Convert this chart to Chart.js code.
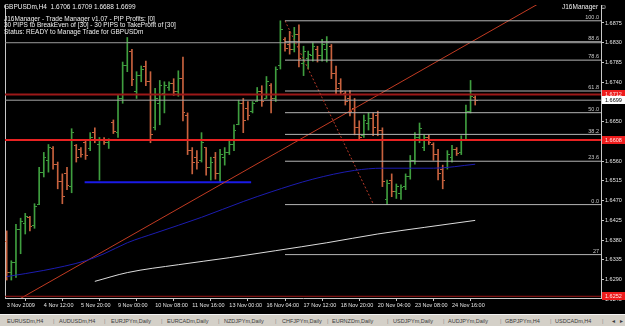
<!DOCTYPE html>
<html><head><meta charset="utf-8">
<script src="https://cdn.jsdelivr.net/npm/chart.js@4/dist/chart.umd.min.js"></script>
<style>
html,body{margin:0;padding:0;background:#000;width:625px;height:326px;overflow:hidden;font-family:"Liberation Sans",Arial,sans-serif;}
#wrap{position:absolute;left:0;top:0;width:625px;height:314px;}
.txt{position:absolute;color:#f0f0f0;font-size:6.5px;white-space:pre;}
#tabs{position:absolute;left:0;top:314px;width:625px;height:12px;background:#d4d0c8;border-top:1px solid #f4f4f4;box-sizing:border-box;font-size:5.5px;color:#3a3a3a;}
#tabs span{position:absolute;top:2px;white-space:nowrap;line-height:8px;}
</style>
</head><body>
<div id="wrap"><canvas id="c"></canvas></div>
<div class="txt" id="l1" style="left:4px;top:2.5px;line-height:7px;"></div>
<div class="txt" style="left:4px;top:15.6px;line-height:6.7px;">J16Manager - Trade Manager v1.07 - PIP Profits: [0]
30 PIPS to BreakEven of [30] - 30 PIPS to TakeProfit of [30]
Status: READY to Manage Trade for GBPUSDm</div>
<div class="txt" style="left:562px;top:2.5px;line-height:7px;">J16Manager <span style="font-size:7px">☺</span></div>
<div id="tabs"></div>
<script>
// ---------- data (GBPUSDm, H4) ----------
const opens=[1.6378,1.6307,1.6329,1.6405,1.6419,1.6432,1.6414,1.6461,1.6535,1.6562,
1.6589,1.6553,1.6513,1.6531,1.6502,1.6596,1.6587,1.6602,1.6589,1.6625,
1.6598,1.6609,1.6602,1.6649,1.6625,1.6703,1.6777,1.6809,1.6719,1.6755,
1.6775,1.6741,1.6636,1.6692,1.6714,1.6728,1.6737,1.6719,1.6748,1.6665,
1.6584,1.6569,1.6562,1.6591,1.6546,1.6569,1.6531,1.6569,1.6580,1.6598,
1.6643,1.6692,1.6681,1.6674,1.6696,1.6719,1.6703,1.6732,1.6703,1.6777,
1.6838,1.6826,1.6815,1.6849,1.6782,1.6793,1.6800,1.6815,1.6800,1.6815,
1.6822,1.6759,1.6737,1.6714,1.6703,1.6681,1.6636,1.6618,1.6647,1.6658,
1.6665,1.6629,1.6473,1.6517,1.6490,1.6486,1.6502,1.6524,1.6562,1.6614,
1.6591,1.6614,1.6598,1.6575,1.6540,1.6546,1.6569,1.6587,1.6580,1.6609,
1.6674,1.6706];
const highs=[1.6401,1.6333,1.6416,1.6430,1.6441,1.6434,1.6463,1.6546,1.6580,1.6598,
1.6593,1.6558,1.6531,1.6546,1.6634,1.6598,1.6591,1.6609,1.6625,1.6636,
1.6614,1.6614,1.6611,1.6654,1.6710,1.6786,1.6842,1.6815,1.6764,1.6777,
1.6788,1.6764,1.6726,1.6744,1.6741,1.6741,1.6748,1.6766,1.6797,1.6670,
1.6591,1.6584,1.6625,1.6591,1.6569,1.6580,1.6587,1.6591,1.6607,1.6643,
1.6699,1.6703,1.6696,1.6696,1.6728,1.6732,1.6753,1.6737,1.6775,1.6880,
1.6842,1.6856,1.6865,1.6871,1.6822,1.6811,1.6831,1.6822,1.6838,1.6844,
1.6826,1.6777,1.6748,1.6719,1.6721,1.6703,1.6652,1.6665,1.6670,1.6670,
1.6674,1.6636,1.6517,1.6531,1.6508,1.6506,1.6531,1.6573,1.6625,1.6647,
1.6620,1.6620,1.6602,1.6587,1.6551,1.6584,1.6596,1.6591,1.6618,1.6688,
1.6744,1.6709];
const lows=[1.6289,1.6289,1.6295,1.6349,1.6394,1.6401,1.6407,1.6461,1.6524,1.6535,
1.6542,1.6497,1.6463,1.6495,1.6488,1.6558,1.6569,1.6564,1.6584,1.6602,
1.6517,1.6598,1.6589,1.6623,1.6614,1.6692,1.6764,1.6732,1.6703,1.6741,
1.6732,1.6602,1.6631,1.6643,1.6670,1.6721,1.6710,1.6708,1.6652,1.6575,
1.6531,1.6542,1.6558,1.6528,1.6517,1.6519,1.6513,1.6551,1.6575,1.6584,
1.6643,1.6625,1.6654,1.6670,1.6696,1.6685,1.6703,1.6670,1.6696,1.6770,
1.6811,1.6804,1.6809,1.6775,1.6755,1.6770,1.6788,1.6786,1.6788,1.6786,
1.6748,1.6714,1.6714,1.6688,1.6663,1.6620,1.6607,1.6614,1.6631,1.6618,
1.6618,1.6502,1.6461,1.6479,1.6475,1.6473,1.6495,1.6519,1.6553,1.6602,
1.6584,1.6598,1.6562,1.6517,1.6497,1.6542,1.6558,1.6573,1.6575,1.6607,
1.6670,1.6688];
const closes=[1.6307,1.6329,1.6405,1.6423,1.6434,1.6410,1.6457,1.6535,1.6569,1.6591,
1.6553,1.6513,1.6479,1.6504,1.6625,1.6569,1.6575,1.6573,1.6614,1.6607,
1.6609,1.6602,1.6607,1.6627,1.6703,1.6777,1.6831,1.6746,1.6755,1.6770,
1.6741,1.6620,1.6703,1.6732,1.6732,1.6737,1.6719,1.6748,1.6670,1.6584,
1.6558,1.6558,1.6602,1.6546,1.6558,1.6531,1.6575,1.6580,1.6598,1.6629,
1.6692,1.6652,1.6665,1.6692,1.6719,1.6696,1.6741,1.6703,1.6770,1.6860,
1.6817,1.6815,1.6849,1.6793,1.6809,1.6804,1.6822,1.6800,1.6826,1.6831,
1.6759,1.6726,1.6719,1.6696,1.6674,1.6636,1.6614,1.6652,1.6658,1.6636,
1.6629,1.6513,1.6508,1.6490,1.6502,1.6499,1.6524,1.6562,1.6614,1.6634,
1.6614,1.6602,1.6575,1.6531,1.6517,1.6575,1.6587,1.6578,1.6609,1.6674,
1.6708,1.6699];

const xTickIdx=[0,8,16,24,32,40,48,56,64,72,80,88,96];
const xTickText=["3 Nov 2009","4 Nov 12:00","5 Nov 20:00","9 Nov 00:00","10 Nov 08:00","11 Nov 16:00",
"13 Nov 00:00","16 Nov 04:00","17 Nov 12:00","18 Nov 20:00","20 Nov 04:00","23 Nov 08:00","24 Nov 16:00"];
const yTicks=[1.6245,1.6290,1.6335,1.6380,1.6425,1.6470,1.6515,1.6560,1.6605,1.6650,1.6695,1.6740,1.6785,1.6830,1.6875];

const blueMaIdx=[0,8,17,21,26,32,42,51,57,66,75,81,92,101];
const blueMaVal=[1.6297,1.6311,1.6333,1.6349,1.6374,1.6396,1.6432,1.6468,1.6490,1.6519,1.6539,1.6544,1.6544,1.6553];
const whiteMaIdx=[19,26,37,48,58,69,80,90,101];
const whiteMaVal=[1.6286,1.6306,1.6324,1.6340,1.6356,1.6374,1.6394,1.6409,1.6425];

const fibHigh=1.6880, fibLow=1.6461, fibFromIdx=60, fibToIdx=79.1;
const fibLevels=[100,88.6,78.6,61.8,50,38.2,23.6,0,-27.2];
const fibLabels=["100.0","88.6","78.6","61.8","50.0","38.2","23.6","0.0","27"];

const hLinePrices=[1.6830,1.6712,1.6699,1.6608,1.6252];
const trendIdx=[-0.364,128.12], trendVal=[1.6227,1.7000];
const supportIdx=[16.8,52.7], supportVal=[1.6512,1.6512];
const boxPrices=[1.6712,1.6699,1.6608,1.6252];

const tabNames=["EURUSDm,H4","AUDUSDm,H4","EURJPYm,Daily","EURCADm,Daily","NZDJPYm,Daily","CHFJPYm,Daily",
"EURNZDm,Daily","USDJPYm,Daily","AUDJPYm,Daily","GBPJPYm,H4","USDCADm,H4"];

// ---------- layout / style ----------
const X_MIN=-0.364, X_MAX=128.12, Y_MIN=1.62481, Y_MAX=1.69160;
const UP='#3f9e3f', DN='#c8623e', AX='#e4e4e4', FONT='"Liberation Sans", Arial, sans-serif';
const n=opens.length;
document.getElementById('l1').textContent='GBPUSDm,H4  '+opens[n-1].toFixed(4)+' '+highs[n-1].toFixed(4)+' '+lows[n-1].toFixed(4)+' '+closes[n-1].toFixed(4);

// tabs
(function(){
  const t=document.getElementById('tabs');
  const lefts=[7,59,111,167,224,282,332,393,448,505,555];
  const seps=[53,104,161,218,275,327,387,443,500,550,602];
  tabNames.forEach((nm,i)=>{const s=document.createElement('span');s.textContent=nm;s.style.left=lefts[i]+'px';t.appendChild(s);});
  seps.forEach(x=>{const s=document.createElement('span');s.textContent='|';s.style.left=x+'px';s.style.color='#8a8a8a';t.appendChild(s);});
  [['◄',611],['►',619]].forEach(a=>{const s=document.createElement('span');s.textContent=a[0];s.style.left=a[1]+'px';s.style.fontSize='5px';t.appendChild(s);});
})();

function tickImg(color, side){
  const c=document.createElement('canvas'); c.width=5; c.height=1;
  const g=c.getContext('2d'); g.fillStyle=color;
  if(side==='l') g.fillRect(0,0,2,1); else g.fillRect(3,0,2,1);
  return c;
}
const imgs={upL:tickImg(UP,'l'),upR:tickImg(UP,'r'),dnL:tickImg(DN,'l'),dnR:tickImg(DN,'r')};
const isUp=i=>closes[i]>=opens[i];

function hline(price, from, to, color, width, dash, order){
  return {type:'line', data:[{x:from,y:price},{x:to,y:price}], borderColor:color, borderWidth:width,
    borderDash:dash||[], pointRadius:0, order:order||1, yAxisID:'y'};
}

const datasets=[];
// OHLC range bars
datasets.push({type:'bar', data:highs.map((h,i)=>({x:i,y:[lows[i],h]})),
  backgroundColor:highs.map((h,i)=>isUp(i)?UP:DN), barThickness:1, borderWidth:0, order:3, yAxisID:'y'});
datasets.push({type:'line', showLine:false, data:opens.map((o,i)=>({x:i,y:o})),
  pointStyle:ctx=>isUp(ctx.dataIndex)?imgs.upL:imgs.dnL, pointRadius:2, order:2, yAxisID:'y'});
datasets.push({type:'line', showLine:false, data:closes.map((c,i)=>({x:i,y:c})),
  pointStyle:ctx=>isUp(ctx.dataIndex)?imgs.upR:imgs.dnR, pointRadius:2, order:2, yAxisID:'y'});
// moving averages
datasets.push({type:'line', data:blueMaIdx.map((x,i)=>({x,y:blueMaVal[i]})), borderColor:'#1c1cb0', borderWidth:1,
  pointRadius:0, cubicInterpolationMode:'monotone', order:1, yAxisID:'y'});
datasets.push({type:'line', data:whiteMaIdx.map((x,i)=>({x,y:whiteMaVal[i]})), borderColor:'#dcdcdc', borderWidth:1,
  pointRadius:0, cubicInterpolationMode:'monotone', order:1, yAxisID:'y'});
// fibonacci levels
fibLevels.forEach(l=>datasets.push(hline(fibLow+(fibHigh-fibLow)*l/100, fibFromIdx, X_MAX, '#b4b4b4', 1)));
datasets.push({type:'line', data:[{x:fibFromIdx,y:fibHigh},{x:fibToIdx,y:fibLow}], borderColor:'#b83a28', borderWidth:1,
  borderDash:[2,2], pointRadius:0, order:1, yAxisID:'y'});
// horizontal lines
const hlStyle=[['#9a9a9a',1],['#9c1818',2],['#a6a6a6',1],['#e82222',2],['#9c1818',1]];
hLinePrices.forEach((p,i)=>datasets.push(hline(p, X_MIN, X_MAX, hlStyle[i][0], hlStyle[i][1])));
// trend line and support segment
datasets.push({type:'line', data:trendIdx.map((x,i)=>({x,y:trendVal[i]})), borderColor:'#c23a22', borderWidth:1, pointRadius:0, order:1, yAxisID:'y'});
datasets.push({type:'line', data:supportIdx.map((x,i)=>({x,y:supportVal[i]})), borderColor:'#1a1ae6', borderWidth:2, pointRadius:0, order:1, yAxisID:'y'});

const overlay={id:'overlay', afterDraw(chart){
  const g=chart.ctx, ys=chart.scales.y, ca=chart.chartArea;
  g.save();
  g.font='5.5px '+FONT; g.textAlign='right'; g.textBaseline='bottom'; g.fillStyle='#c8c8c8';
  fibLevels.forEach((l,i)=>{const y=ys.getPixelForValue(fibLow+(fibHigh-fibLow)*l/100); g.fillText(fibLabels[i], ca.right-2, y-0.5);});
  const bc=['#ee1c1c','#ffffff','#ee1c1c','#ee1c1c'], tc=['#ffe8e8','#000000','#ffe8e8','#ffe8e8'];
  g.textAlign='left'; g.textBaseline='middle';
  boxPrices.forEach((p,i)=>{const y=ys.getPixelForValue(p);
    g.fillStyle=bc[i]; g.fillRect(ca.right+1, Math.round(y)-4, 23, 8);
    g.fillStyle=tc[i]; g.fillText(p.toFixed(4), ca.right+4, y);});
  g.restore();
}};

new Chart(document.getElementById('c'),{
  data:{datasets},
  options:{responsive:true, maintainAspectRatio:false, animation:false, events:[],
    layout:{padding:{left:0,right:0,top:0,bottom:0}},
    plugins:{legend:{display:false}, tooltip:{enabled:false}},
    scales:{
      x:{type:'linear', min:X_MIN, max:X_MAX, offset:false, position:'bottom',
        afterBuildTicks:s=>{s.ticks=xTickIdx.map(v=>({value:v}));},
        afterFit:s=>{s.height=16;},
        ticks:{autoSkip:false, maxRotation:0, minRotation:0, align:'start', color:AX, padding:1,
          font:{size:5.5,family:FONT}, callback:v=>{const k=xTickIdx.indexOf(v); return k>=0?xTickText[k]:'';}},
        grid:{display:true, drawOnChartArea:false, tickLength:3, color:'#c8c8c8'},
        border:{display:true, color:'#c8c8c8'}},
      y:{type:'linear', position:'right', min:Y_MIN, max:Y_MAX,
        afterBuildTicks:s=>{s.ticks=yTicks.map(v=>({value:v}));},
        afterFit:s=>{s.width=24;},
        ticks:{autoSkip:false, color:AX, padding:1, font:{size:5.5,family:FONT}, callback:v=>v.toFixed(4)},
        grid:{display:true, drawOnChartArea:false, tickLength:3, color:'#c8c8c8'},
        border:{display:true, color:'#c8c8c8'}},
      yl:{type:'linear', position:'left', min:Y_MIN, max:Y_MAX, afterFit:s=>{s.width=1;},
        ticks:{display:false}, grid:{display:false, drawTicks:false}, border:{display:true, color:'#c8c8c8'}}
    }
  },
  plugins:[overlay]
});
</script>
</body></html>
